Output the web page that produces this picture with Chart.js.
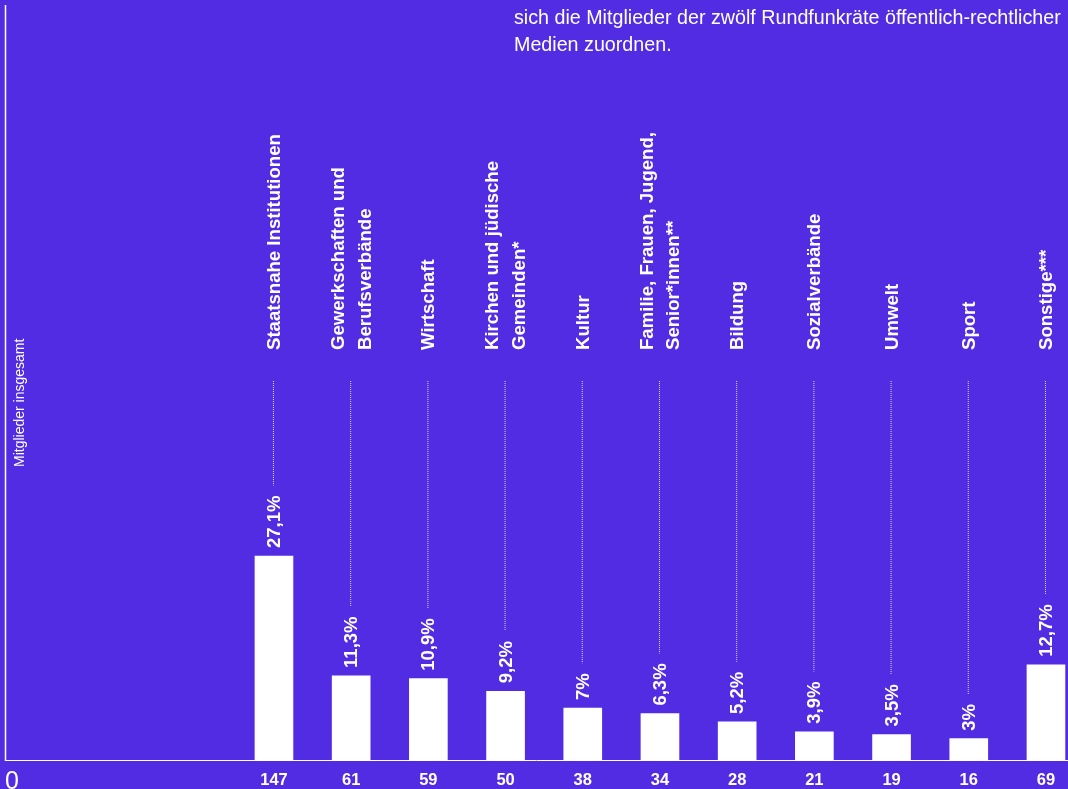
<!DOCTYPE html>
<html lang="de">
<head>
<meta charset="utf-8">
<title>Rundfunkräte</title>
<script src="https://cdn.jsdelivr.net/npm/chart.js@4.4.1/dist/chart.umd.min.js"></script>
<style>
  html, body { margin: 0; padding: 0; background: #522ce2; }
  #wrap { position: relative; width: 1068px; height: 789px; overflow: hidden; }
  #intro {
    position: absolute; left: 514px; top: 4px; margin: 0;
    color: #fff; font: 19.7px "Liberation Sans", Arial, sans-serif; line-height: 27px;
    white-space: nowrap;
  }
</style>
</head>
<body>
<div id="wrap">
  <canvas id="chart"></canvas>
  <p id="intro">sich die Mitglieder der zwölf Rundfunkräte öffentlich-rechtlicher<br>Medien zuordnen.</p>
</div>
<script>
// Daten
const categories = [
    ['Staatsnahe Institutionen'],
    ['Gewerkschaften und', 'Berufsverbände'],
    ['Wirtschaft'],
    ['Kirchen und jüdische', 'Gemeinden*'],
    ['Kultur'],
    ['Familie, Frauen, Jugend,', 'Senior*innen**'],
    ['Bildung'],
    ['Sozialverbände'],
    ['Umwelt'],
    ['Sport'],
    ['Sonstige***']
];
const members = [147, 61, 59, 50, 38, 34, 28, 21, 19, 16, 69];
const shares = ['27,1%', '11,3%', '10,9%', '9,2%', '7%', '6,3%', '5,2%', '3,9%', '3,5%', '3%', '12,7%'];
const axisTitle = 'Mitglieder insgesamt';
const zeroLabel = '0';

const total = members.reduce((a, b) => a + b, 0);
const FONT = '"Liberation Sans", Arial, sans-serif';

const labelPlugin = {
    id: 'labels',
    beforeDraw(chart) {
        const c = chart.ctx;
        c.save();
        c.fillStyle = '#522ce2';
        c.fillRect(0, 0, chart.width, chart.height);
        c.restore();
    },
    afterDatasetsDraw(chart) {
        const c = chart.ctx;
        const area = chart.chartArea;
        const xs = chart.scales.x;
        const ys = chart.scales.y;
        c.save();

        // axis lines
        c.strokeStyle = '#fff';
        c.lineWidth = 1.5;
        c.beginPath();
        c.moveTo(area.left + 0.5, area.top);
        c.lineTo(area.left + 0.5, area.bottom);
        c.stroke();
        c.lineWidth = 1;
        c.beginPath();
        c.moveTo(area.left, area.bottom - 0.5);
        c.lineTo(area.right, area.bottom - 0.5);
        c.stroke();

        c.fillStyle = '#fff';

        // y title
        c.save();
        c.translate(20, 467);
        c.rotate(-Math.PI / 2);
        c.font = '14px ' + FONT;
        c.textAlign = 'left';
        c.textBaseline = 'middle';
        c.fillText(axisTitle, 0, 0);
        c.restore();

        // zero
        c.font = '25px ' + FONT;
        c.textAlign = 'left';
        c.textBaseline = 'alphabetic';
        c.fillText(zeroLabel, area.left, 789);

        members.forEach((v, i) => {
            const cx = xs.getPixelForValue(i);
            const top = ys.getPixelForValue(v);

            // count below axis
            c.font = 'bold 16.5px ' + FONT;
            c.textAlign = 'center';
            c.textBaseline = 'alphabetic';
            c.fillText(String(v), cx, 785);

            // share above bar
            c.font = 'bold 18.5px ' + FONT;
            const w = c.measureText(shares[i]).width;
            c.save();
            c.translate(cx + 1, top - 8);
            c.rotate(-Math.PI / 2);
            c.textAlign = 'left';
            c.textBaseline = 'middle';
            c.fillText(shares[i], 0, 0);
            c.restore();

            // dotted leader
            c.save();
            c.strokeStyle = 'rgba(255,255,255,0.8)';
            c.lineWidth = 1;
            c.setLineDash([1, 1]);
            c.beginPath();
            c.moveTo(cx - 0.5, 381);
            c.lineTo(cx - 0.5, top - 8 - w - 10);
            c.stroke();
            c.restore();

            // category label
            const lines = categories[i];
            const gap = 26.5;
            c.font = 'bold 18.6px ' + FONT;
            lines.forEach((t, k) => {
                const lx = cx + 1 + (k - (lines.length - 1) / 2) * gap;
                c.save();
                c.translate(lx, 350);
                c.rotate(-Math.PI / 2);
                c.textAlign = 'left';
                c.textBaseline = 'middle';
                c.fillText(t, 0, 0);
                c.restore();
            });
        });
        c.restore();
    }
};

const ctx = document.getElementById('chart').getContext('2d');
const chart = new Chart(ctx, {
    type: 'bar',
    data: {
        datasets: [{
            data: members.map((v, i) => ({ x: i, y: v })),
            backgroundColor: '#ffffff',
            borderWidth: 0,
            barThickness: 38
        }]
    },
    options: {
        responsive: true,
        maintainAspectRatio: false,
        animation: false,
        layout: { padding: { left: 5, top: 5, right: 0, bottom: 28 } },
        plugins: {
            legend: { display: false },
            tooltip: { enabled: false }
        },
        scales: {
            x: {
                type: 'linear', display: false, offset: false,
                grid: { offset: false },
                min: -3.484, max: -3.484 + 1063 / 77.2
            },
            y: { display: false, min: 0, max: total }
        }
    },
    plugins: [labelPlugin]
});
</script>
</body>
</html>
